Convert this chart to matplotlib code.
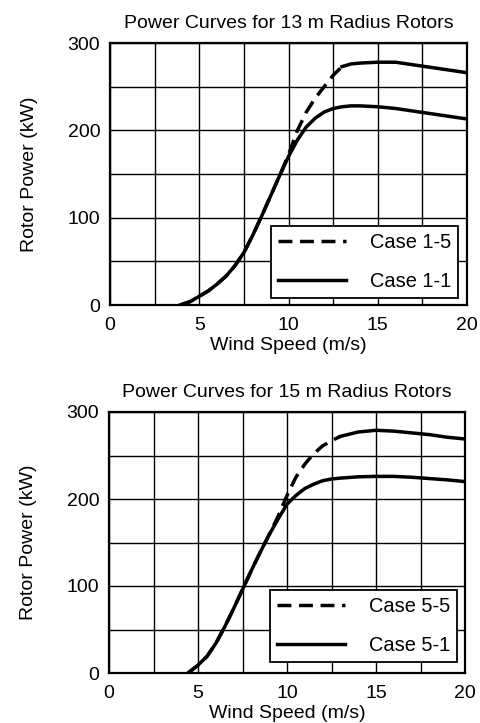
import matplotlib
matplotlib.use("Agg")
import matplotlib.pyplot as plt
from matplotlib.lines import Line2D
import numpy as np

plt.rcParams['font.family'] = ['Liberation Sans', 'DejaVu Sans']

# ---- data: 13 m radius rotors ----
ws_13 = [3.93, 4.5, 5, 5.5, 6, 6.5, 7, 7.5, 8, 8.5, 9, 9.5, 10, 10.5, 11, 11.5,
         12, 12.5, 13, 13.5, 14, 15, 16, 17, 18, 19, 20]
case_1_1 = [0, 4, 10, 16, 24, 33, 45, 60, 80, 102, 125, 148, 170, 189, 204, 214,
            221, 225, 227, 228, 228, 227, 225, 222, 219, 216, 213]
case_1_5 = [0, 4, 10, 16, 24, 33, 45, 60, 80, 102, 125, 148, 172, 200, 221, 237,
            250, 263, 273, 276, 277, 278, 278, 275, 272, 269, 266]

# ---- data: 15 m radius rotors ----
ws_15 = [4.44, 5, 5.5, 6, 6.5, 7, 7.5, 8, 8.5, 9, 9.5, 10, 10.5, 11, 11.5,
         12, 12.5, 13, 14, 15, 16, 17, 18, 19, 20]
case_5_1 = [0, 9, 19, 34, 53, 74, 96, 118, 139, 159, 177, 194, 204, 212, 217,
            221, 223, 224, 225.5, 226, 226, 225, 223.5, 222, 220]
case_5_5 = [0, 9, 19, 34, 53, 74, 96, 118, 139, 159, 180, 204, 225, 240, 252,
            261, 267, 272, 277, 279, 278, 276, 274, 271, 269]

titles = ["Power Curves for 13 m Radius Rotors", "Power Curves for 15 m Radius Rotors"]
labels = [("Case 1-5", "Case 1-1"), ("Case 5-5", "Case 5-1")]
x_ticks = [0, 5, 10, 15, 20]
y_ticks = [0, 100, 200, 300]

fig = plt.figure(figsize=(4.8, 7.23), dpi=100)
W, H = 480, 723
rects = [(110, 43, 467, 305), (109, 412, 465, 673)]
leg_anchor = [(458, 298), (457, 662)]
datasets = [(ws_13, case_1_5, case_1_1), (ws_15, case_5_5, case_5_1)]
dash = (0, (4, 2.2))
LW = 2.5

for (l, t, r, b), (ax_r, ax_b), (ws, dashed, solid), title, (lab_d, lab_s) in zip(
        rects, leg_anchor, datasets, titles, labels):
    ax = fig.add_axes([l / W, 1 - b / H, (r - l) / W, (b - t) / H])
    ws_a = np.array(ws)
    d_a = np.array(dashed)
    m1 = ws_a <= 13
    m2 = ws_a >= 13
    ax.plot(ws_a[m1], d_a[m1], color='black', lw=LW, ls=dash)
    ax.plot(ws_a[m2], d_a[m2], color='black', lw=LW)
    ax.plot(ws, solid, color='black', lw=LW)
    ax.set_xlim(0, 20)
    ax.set_ylim(0, 300)
    ax.set_xticks(x_ticks)
    ax.set_yticks(y_ticks)
    ax.set_xticks(np.arange(0, 20.1, 2.5), minor=True)
    ax.set_yticks(np.arange(0, 301, 50), minor=True)
    ax.grid(True, which='both', color='black', lw=1.0)
    ax.tick_params(which='both', length=0, labelsize=14)
    ax.tick_params(axis='x', pad=8.5)
    ax.tick_params(axis='y', pad=7)
    for s in ax.spines.values():
        s.set_linewidth(1.6)
    ax.set_title(title, fontsize=14, pad=11)
    ax.set_xlabel("Wind Speed (m/s)", fontsize=14, labelpad=2)
    ax.set_ylabel("Rotor Power (kW)", fontsize=14, labelpad=21)
    h = [Line2D([], [], color='black', lw=LW, ls=dash),
         Line2D([], [], color='black', lw=LW)]
    anchor = ((ax_r - l) / (r - l), (b - ax_b) / (b - t))
    leg = ax.legend(h, [lab_d, lab_s], loc='lower right', bbox_to_anchor=anchor,
                    borderaxespad=0, fancybox=False, shadow=False, edgecolor='black',
                    framealpha=1, fontsize=14.4, handlelength=3.4, labelspacing=1.0,
                    handletextpad=1.2, borderpad=0.35)
    leg.get_frame().set_linewidth(1.3)

fig.savefig("out.png", dpi=100)
